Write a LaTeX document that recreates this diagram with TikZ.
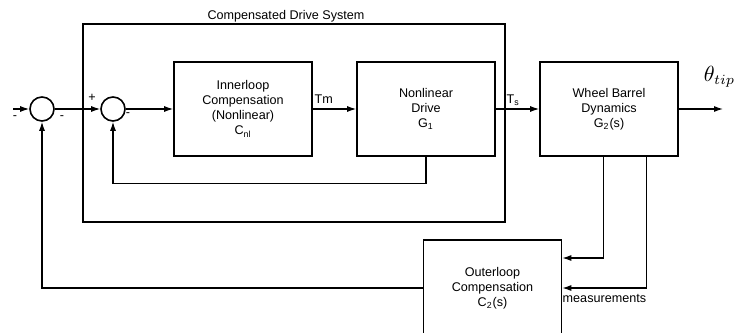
\documentclass[tikz,border=0pt]{standalone}
\usepackage{fontspec}
\setmainfont{Liberation Sans}
\usetikzlibrary{arrows.meta}

\begin{document}
\begin{tikzpicture}
    [x=0.5pt, y=-0.5pt,
    node distance=91.5pt,
    thick,
    sig/.style={semithick, -{Latex[length=4.5pt, width=3pt]}},
    block/.style={draw, minimum width=69pt, minimum height=47pt, align=center, inner sep=1pt, font=\fontsize{6.3}{7.5}\selectfont},
    sum/.style={draw, circle, minimum size=12pt, inner sep=0pt},
    lbl/.style={font=\fontsize{6.3}{7.5}\selectfont, inner sep=0pt}]
        \useasboundingbox (0,0) rectangle (737,332);
        %% Compensated drive system
        \node[draw, minimum width=211pt, minimum height=99pt] (CDS) at (294,123) {};
        \node[lbl] (title) at (286,16) {Compensated Drive System};

        %% Summing junctions
        \node[sum] (S1) at (42,109) {};
        \node[sum, right of = S1, node distance=35.5pt] (S2) {};
        \node[lbl] (m1) at (15,118) {-};
        \node[lbl] (m2) at (62,118) {-};
        \node[lbl] (p2) at (92,98) {+};
        \node[lbl] (m3) at (128,115) {-};

        %% Blocks
        \node[block] (Cnl) at (243,109) {Innerloop\\Compensation\\(Nonlinear)\\C\textsubscript{nl}};
        \node[block, right of = Cnl] (G1) {Nonlinear\\Drive\\G\textsubscript{1}};
        \node[block, right of = G1] (G2) {Wheel Barrel\\Dynamics\\G\textsubscript{2}(s)};
        \node[block, minimum height=48pt] (C2) at (492.5,288) {Outerloop\\Compensation\\C\textsubscript{2}(s)};

        \coordinate (in) at (13,109);
        \coordinate (out) at (723,109);
        \node[anchor=base west, inner sep=0pt, font=\fontsize{10.5}{12}\selectfont] (theta) at (703,81) {$\theta_{tip}$};

        %% Forward path
        \draw[sig] (in) to (S1);
        \draw[sig] (S1) to (S2);
        \draw[sig] (S2) to (Cnl);
        \draw[sig] (Cnl) to node[lbl, above=2.5pt, pos=0.25] {Tm} (G1);
        \draw[sig] (G1) to node[lbl, above=1.5pt, pos=0.4] {T\textsubscript{s}} (G2);
        \draw[sig] (G2) to (out);

        %% Feedback paths
        \draw[sig] (G1.south) -- ++(0,27) -| (S2);
        \draw[sig] ([xshift=-2.75pt]G2.south) |- ([yshift=15pt]C2.east);
        \draw[sig] ([xshift=18.75pt]G2.south) |- node[lbl, below=3pt, pos=0.75] {measurements} (C2.east);
        \draw[sig] (C2.west) -| (S1);
    \end{tikzpicture}
\end{document}
